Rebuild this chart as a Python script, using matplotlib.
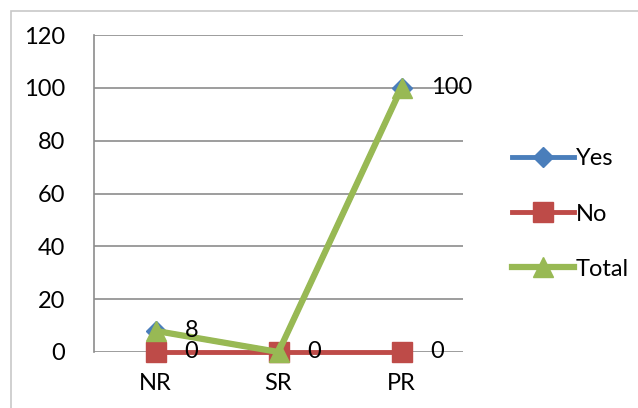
import matplotlib.pyplot as plt
from matplotlib.patches import Rectangle

categories = ['NR', 'SR', 'PR']
yes_vals = [8, 0, 100]
no_vals = [0, 0, 0]
total_vals = [8, 0, 100]
yes_labels = ['8', '', '100']
no_labels = ['0', '0', '0']

plt.rcParams['font.family'] = ['Lato', 'DejaVu Sans']

W, H = 638, 408
fig = plt.figure(figsize=(W / 100, H / 100), dpi=100)
# plot area in pixels: left 94, right 463, top 35, bottom 352
ax = fig.add_axes([94 / W, 1 - 352 / H, (463 - 94) / W, (352 - 35) / H])

# outer chart border
fig.patches.append(Rectangle((11 / W, -0.1), 1.2, 1 - 11 / H + 0.1, transform=fig.transFigure,
                             fill=False, edgecolor='#c8c8c8', linewidth=1.2))

x = range(len(categories))
ax.plot(x, yes_vals, color='#4A7EBB', lw=3.5, marker='D', ms=10, label='Yes', zorder=3)
ax.plot(x, no_vals, color='#BE4B48', lw=3.5, marker='s', ms=14, label='No', zorder=4)
ax.plot(x, total_vals, color='#98B954', lw=4.5, marker='^', ms=14, label='Total', zorder=5)

for i, t in enumerate(yes_labels):
    if t:
        ax.annotate(t, (i, yes_vals[i]), xytext=(21, 0), textcoords='offset points',
                    va='center', ha='left', fontsize=17, zorder=6)
for i, t in enumerate(no_labels):
    ax.annotate(t, (i, no_vals[i]), xytext=(21, 0), textcoords='offset points',
                va='center', ha='left', fontsize=17, zorder=6)

ax.set_xlim(-0.5, 2.5)
ax.set_ylim(0, 120)
ax.set_yticks(range(0, 121, 20))
ax.set_xticks(list(x))
ax.set_xticklabels(categories)
ax.grid(axis='y', color='#8c8c8c', lw=1.2)
ax.set_axisbelow(True)
for s in ['top', 'right', 'bottom']:
    ax.spines[s].set_visible(False)
ax.spines['left'].set_color('#8c8c8c')
ax.spines['left'].set_linewidth(1.2)
ax.tick_params(length=0, labelsize=17)
ax.tick_params(axis='y', pad=21)
ax.tick_params(axis='x', pad=15)
for ln in ax.lines:
    ln.set_clip_on(False)

fig.legend(loc='center left', bbox_to_anchor=(491 / W, 1 - 214 / H), frameon=False,
           fontsize=17, handlelength=2.6, labelspacing=1.45, handletextpad=0.1)

fig.savefig('out.png', dpi=100)
